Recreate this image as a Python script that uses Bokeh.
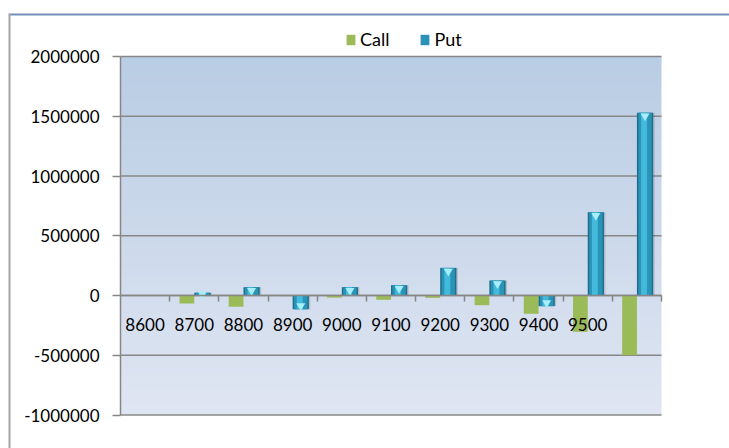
import numpy as np
from bokeh.plotting import figure
from bokeh.models import (Range1d, LinearAxis, FixedTicker,
                          Legend, LegendItem, ColumnDataSource, Span)
from bokeh.embed import file_html
from bokeh.resources import INLINE

# ---- data ----
strikes = ["8600", "8700", "8800", "8900", "9000", "9100", "9200", "9300", "9400", "9500", ""]
call = [0, -67000, -95000, -5000, -18000, -36000, -20000, -81000, -153000, -304000, -500000]
put = [0, 22000, 70000, -115000, 70000, 86000, 231000, 125000, -89000, 696000, 1530000]
y_ticks = [-1000000, -500000, 0, 500000, 1000000, 1500000, 2000000]
y_labels = ["-1000000", "-500000", "0", "500000", "1000000", "1500000", "2000000"]

FONT = "Lato"
W, H = 729, 448
idx = np.arange(len(strikes))

# layout (pixels): chart box starts at (8, 13); plot area 120..661 x 56..414.5
box_l, box_t = 8, 13
pa_l, pa_r, pa_t, pa_b = 120, 661, 56, 414.5
x0, x1 = -0.5, len(strikes) - 0.5
y0, y1 = y_ticks[0], y_ticks[-1]
xpx = (pa_r - pa_l) / (x1 - x0)
ypx = (pa_b - pa_t) / (y1 - y0)
xr = Range1d(x0 - (pa_l - box_l) / xpx, x1 + (W - pa_r) / xpx)
yr = Range1d(y0 - (H - pa_b) / ypx, y1 + (pa_t - box_t) / ypx)

p = figure(width=W, height=H, output_backend="svg", toolbar_location=None,
           x_range=xr, y_range=yr, x_axis_location=None, y_axis_location=None,
           min_border_left=box_l, min_border_right=0, min_border_top=box_t, min_border_bottom=0)
p.outline_line_color = None
p.background_fill_color = "white"
p.border_fill_color = "white"
p.grid.visible = False

# chart border (top and left edges)
p.add_layout(Span(location=yr.end, dimension="width", line_color="#7590b8", line_width=4))
p.add_layout(Span(location=xr.start, dimension="height", line_color="#a6a6a6", line_width=4))

# gradient plot background
n = 256
t = np.linspace(0, 1, n)  # bottom -> top
top_c = np.array([185, 205, 228])
bot_c = np.array([224, 230, 243])
cols = (bot_c[None, :] * (1 - t[:, None]) + top_c[None, :] * t[:, None]).astype(np.uint32)
img = (255 << 24) | (cols[:, 2] << 16) | (cols[:, 1] << 8) | cols[:, 0]
img = img.reshape(n, 1).astype(np.uint32)
p.image_rgba(image=[img], x=x0, y=y0, dw=x1 - x0, dh=y1 - y0, level="image")

# horizontal gridlines across the plot area
p.segment(x0=[x0] * len(y_ticks), x1=[x1] * len(y_ticks), y0=y_ticks, y1=y_ticks,
          line_color="#878787", line_width=1.5, level="underlay")

# y axis
ya = LinearAxis(fixed_location=x0, bounds=(y0, y1), ticker=FixedTicker(ticks=y_ticks),
                major_label_overrides={v: s for v, s in zip(y_ticks, y_labels)})
ya.axis_line_color = "#868686"
ya.axis_line_width = 1.5
ya.major_tick_line_color = "#868686"
ya.major_tick_line_width = 1.5
ya.major_tick_out = 8
ya.major_tick_in = 0
ya.minor_tick_line_color = None
ya.major_label_standoff = 13
ya.major_label_text_font = FONT
ya.major_label_text_font_size = "17px"
ya.major_label_text_color = "black"
p.add_layout(ya, "left")

# x axis (category boundary ticks) at y=0
xa = LinearAxis(fixed_location=0, bounds=(x0, x1),
                ticker=FixedTicker(ticks=[i + 0.5 for i in range(len(strikes))]))
xa.axis_line_color = "#868686"
xa.axis_line_width = 1.5
xa.major_tick_line_color = "#868686"
xa.major_tick_line_width = 1.5
xa.major_tick_out = 6
xa.major_tick_in = 0
xa.minor_tick_line_color = None
xa.major_label_text_color = None
p.add_layout(xa, "below")

# x category labels at y=0
xl = LinearAxis(fixed_location=0, ticker=FixedTicker(ticks=list(range(len(strikes)))),
                major_label_overrides={i: s for i, s in enumerate(strikes)})
xl.axis_line_color = None
xl.major_tick_line_color = None
xl.minor_tick_line_color = None
xl.major_tick_out = 0
xl.major_tick_in = 0
xl.major_label_standoff = 22
xl.major_label_text_font = FONT
xl.major_label_text_font_size = "17px"
xl.major_label_text_color = "black"
p.add_layout(xl, "below")

# bars
src = ColumnDataSource(dict(
    xc=idx - 0.15, xp=idx + 0.165, xs=idx + 0.19, xh=idx + 0.145,
    call=call, put=put))

r_call = p.vbar(x="xc", width=0.3, top="call", bottom=0, source=src,
                fill_color="#9bbb59", line_color=None)
p.vbar(x="xs", width=0.34, top="put", bottom=0, source=src,
       fill_color="#404040", fill_alpha=0.2, line_color=None)
p.vbar(x="xp", width=0.33, top="put", bottom=0, source=src,
       fill_color="#1f6f8c", line_color=None)
r_put = p.vbar(x="xp", width=0.27, top="put", bottom=0, source=src,
               fill_color="#2a93b8", line_color=None)
p.vbar(x="xh", width=0.12, top="put", bottom=0, source=src,
       fill_color="#43badb", line_color=None)

cap_d = 28000
cap_x = [i + 0.165 for i, v in enumerate(put) if v != 0]
cap_y = [v - np.sign(v) * min(cap_d, abs(v) / 2) for v in put if v != 0]
p.scatter(cap_x, cap_y, marker="inverted_triangle", size=9,
          fill_color="#a6eef9", line_color=None)

legend = Legend(items=[LegendItem(label="Call", renderers=[r_call]),
                       LegendItem(label="Put", renderers=[r_put])],
                location=(337, 398), orientation="horizontal")
legend.label_text_font = FONT
legend.label_text_font_size = "18px"
legend.label_text_color = "black"
legend.glyph_width = 11
legend.glyph_height = 13
legend.label_standoff = 4
legend.spacing = 30
legend.padding = 2
legend.margin = 0
legend.border_line_color = None
legend.background_fill_alpha = 0
p.add_layout(legend, "center")

open("out.html", "w").write(file_html(p, INLINE))
